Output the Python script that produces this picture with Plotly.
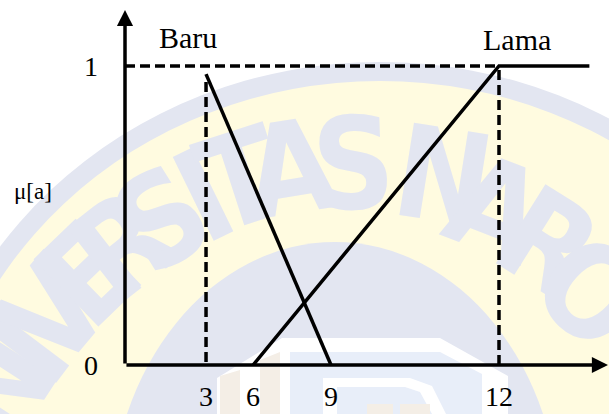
import plotly.graph_objects as go

# tick labels on the x axis and where they sit on the (not to scale) drawing
x_tick_labels = ["3", "6", "9", "12"]
x_tick_pos = [2.6, 4.11, 6.61, 12.0]
y_tick_labels = ["0", "1"]
y_tick_pos = [0, 1]

# membership functions
baru_x = [2.6, 6.61]
baru_y = [0.973, 0.0]
lama_x = [4.11, 12.0, 14.9]
lama_y = [0.0, 1.0, 1.0]

# dashed guide lines
guide_h_x = [0.0, 12.0]
guide_h_y = [1.0, 1.0]
guide_3_x = [2.6, 2.6]
guide_3_y = [0.01, 0.953]
guide_12_x = [12.0, 12.0]
guide_12_y = [0.0, 1.0]

# plot area in pixels
L, T, W, H = 125, 10, 484, 355
FIG_W, FIG_H = 609, 414

LAV = "#e3e6f1"
YEL = "#fffbe0"
SERIF = "Liberation Serif, Times New Roman, serif"


def paper_x(px):
    return (px - L) / W


def paper_y(py):
    return (T + H - py) / H


def ellipse(cx, cy, a, b, color):
    return dict(
        type="circle", layer="below", xref="paper", yref="paper",
        xsizemode="pixel", ysizemode="pixel",
        xanchor=paper_x(cx), yanchor=paper_y(cy),
        x0=-a, x1=a, y0=-b, y1=b,
        fillcolor=color, line=dict(width=0),
    )


def poly(points, color):
    path = "M " + " L ".join(f"{x},{-y}" for x, y in points) + " Z"
    return dict(
        type="path", layer="below", xref="paper", yref="paper",
        xsizemode="pixel", ysizemode="pixel",
        xanchor=paper_x(0), yanchor=paper_y(0),
        path=path, fillcolor=color, line=dict(width=0),
    )


def letter(ch, px, py, ang):
    return dict(
        type="rect", layer="below", xref="paper", yref="paper",
        x0=paper_x(px - 1), x1=paper_x(px + 1),
        y0=paper_y(py + 1), y1=paper_y(py - 1),
        line=dict(width=0), fillcolor="rgba(0,0,0,0)",
        label=dict(
            text=ch, textangle=ang, textposition="middle center",
            font=dict(family="Liberation Sans Narrow, DejaVu Sans Condensed, sans-serif",
                      size=128, color=LAV, weight="bold"),
        ),
    )


# faint university logo in the background
shapes = [
    ellipse(380, 500, 466, 438, LAV),
    ellipse(380, 500, 447, 419, YEL),
    ellipse(335, 520, 225, 278, LAV),
]
logo_letters = [
    ("N", -8, 382, -57), ("I", 20, 342, -53),
    ("V", 46, 308, -50), ("E", 82, 268, -44), ("R", 118, 238, -38),
    ("S", 157, 212, -32), ("I", 200, 188, -26), ("T", 238, 171, -18),
    ("A", 289, 160, -9), ("S", 353, 155, -2), ("N", 445, 168, 9),
    ("A", 499, 200, 21), ("R", 553, 236, 32), ("O", 597, 286, 43),
]
shapes += [letter(*item) for item in logo_letters]
shapes += [
    poly([(217, 414), (217, 378), (282, 338), (440, 338), (508, 376), (508, 414)], "#ffffff"),
    poly([(290, 414), (290, 352), (440, 352), (482, 374), (482, 414)], "#e8eef9"),
    poly([(323, 414), (323, 378), (410, 378), (432, 386), (446, 414), (432, 414),
          (420, 392), (405, 387), (337, 387), (337, 414)], "#ffffff"),
    poly([(220, 414), (220, 376), (240, 370), (240, 414)], "#f4eee6"),
    poly([(260, 414), (260, 360), (280, 352), (280, 414)], "#f4eee6"),
    poly([(367, 414), (367, 404), (393, 404), (393, 414)], "#f4eee6"),
    poly([(400, 414), (400, 404), (430, 404), (430, 414)], "#f4eee6"),
]

fig = go.Figure()

dash = "10px,5px"
for gx, gy in [(guide_h_x, guide_h_y), (guide_3_x, guide_3_y), (guide_12_x, guide_12_y)]:
    fig.add_trace(go.Scatter(x=gx, y=gy, mode="lines",
                             line=dict(color="black", width=3.5, dash=dash)))

fig.add_trace(go.Scatter(x=baru_x, y=baru_y, mode="lines", name="Baru",
                         line=dict(color="black", width=3.5)))
fig.add_trace(go.Scatter(x=lama_x, y=lama_y, mode="lines", name="Lama",
                         line=dict(color="black", width=3.5)))


def label(text, px, py, size):
    return dict(xref="paper", yref="paper", x=paper_x(px), y=paper_y(py), text=text,
                xanchor="center", yanchor="middle", showarrow=False,
                font=dict(family=SERIF, size=size, color="black"))


annotations = [
    # axes with arrow heads
    dict(xref="paper", yref="paper", x=0, y=1, ax=0, ay=H, axref="pixel", ayref="pixel",
         text="", showarrow=True, arrowhead=2, arrowwidth=3.5, arrowsize=0.92,
         arrowcolor="black"),
    dict(xref="paper", yref="paper", x=1.004, y=0, ax=-W - 2, ay=0, axref="pixel", ayref="pixel",
         text="", showarrow=True, arrowhead=2, arrowwidth=3.5, arrowsize=0.92,
         arrowcolor="black"),
    label("Baru", 188, 37, 30),
    label("Lama", 517, 39, 30),
    label("μ[a]", 33, 191, 23),
]

fig.update_layout(
    width=FIG_W, height=FIG_H,
    margin=dict(l=L, r=FIG_W - L - W, t=T, b=FIG_H - T - H, pad=0),
    paper_bgcolor="white", plot_bgcolor="rgba(0,0,0,0)",
    showlegend=False,
    shapes=shapes,
    annotations=annotations,
    xaxis=dict(range=[0, W / 31.1667], showgrid=False, zeroline=False, showline=False,
               tickmode="array", tickvals=x_tick_pos, ticktext=x_tick_labels, ticks="",
               ticklabelstandoff=12, tickfont=dict(family=SERIF, size=28, color="black"),
               fixedrange=True),
    yaxis=dict(range=[0, H / 299], showgrid=False, zeroline=False, showline=False,
               tickmode="array", tickvals=y_tick_pos, ticktext=y_tick_labels, ticks="",
               ticklabelstandoff=26, tickfont=dict(family=SERIF, size=28, color="black"),
               fixedrange=True),
)

fig.write_html("out.html", config={"displayModeBar": False},
               post_script="document.body.style.margin = '0';")
